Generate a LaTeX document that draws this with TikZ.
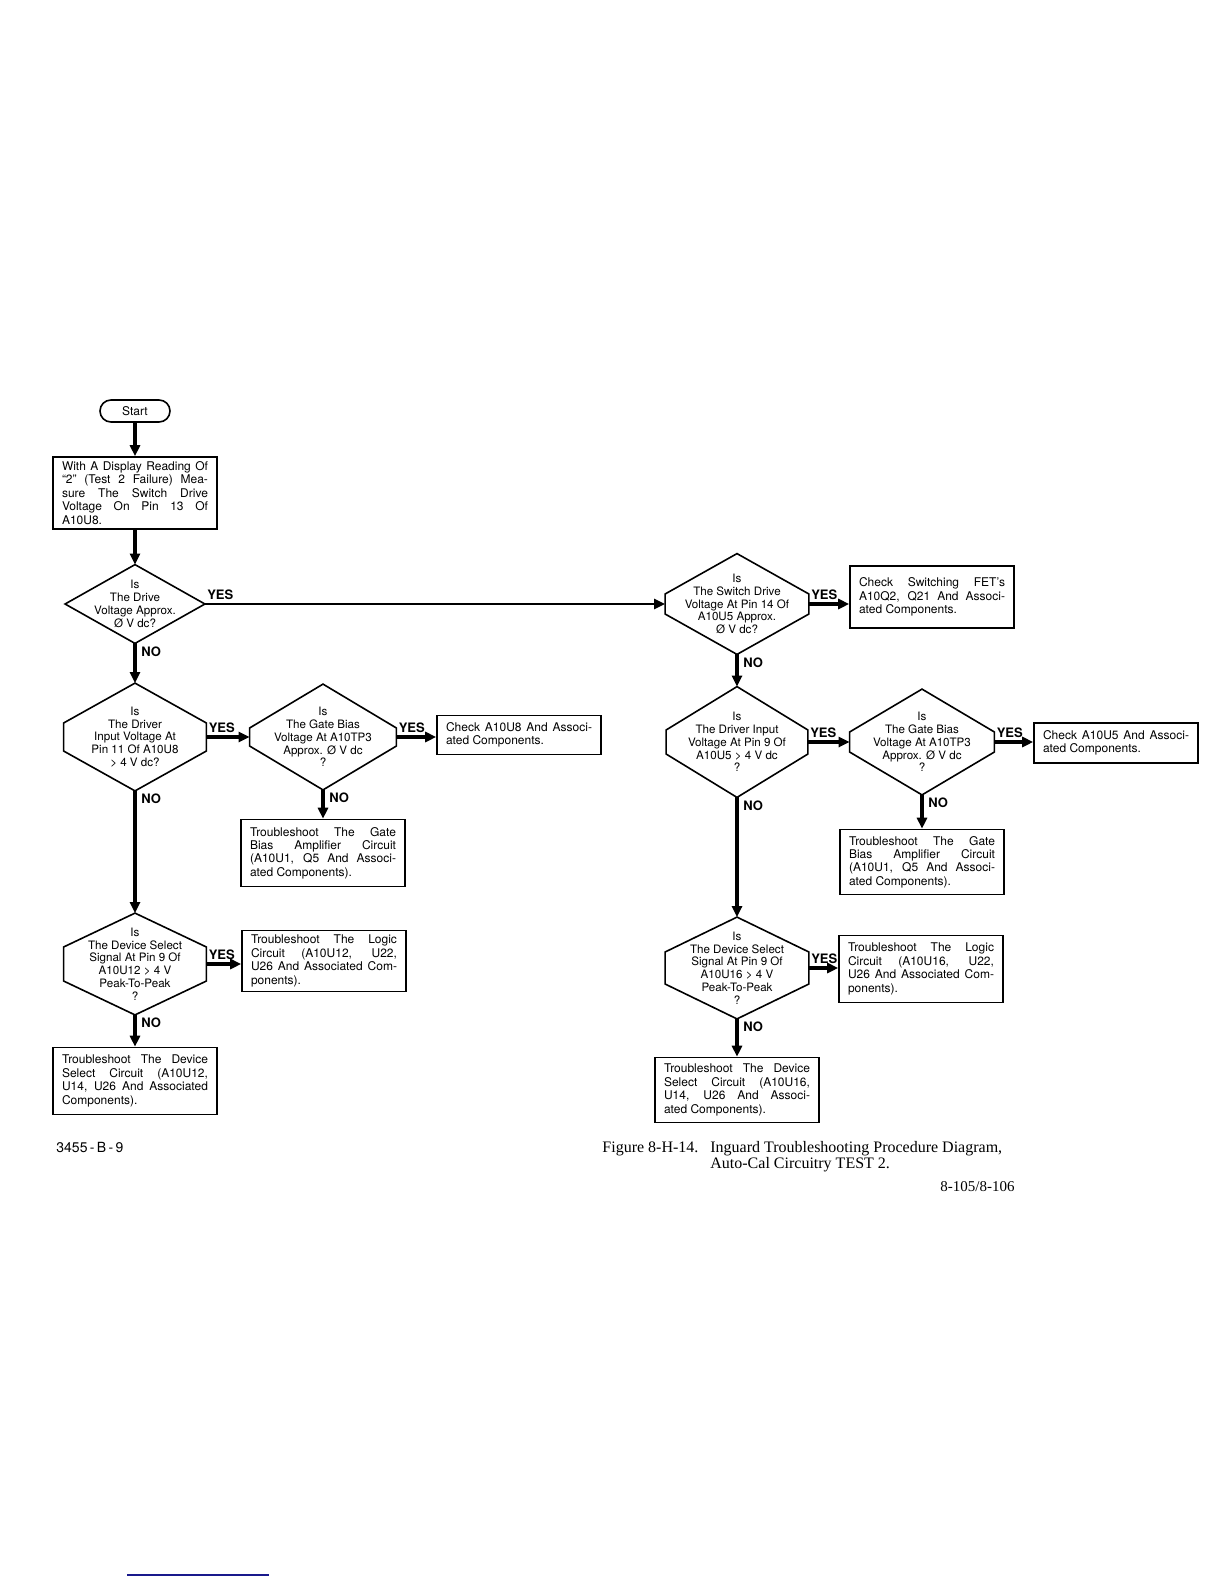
\documentclass[tikz,border=0pt]{standalone}
\usepackage{fontspec}
\setmainfont{TeX Gyre Heros}
\newfontfamily\captfont{Liberation Serif}
\usetikzlibrary{positioning, arrows.meta, calc}
\definecolor{linkblue}{RGB}{25,25,140}

\begin{document}
\begin{tikzpicture}[
    % one unit = one pixel of the scanned page, y running down
    x=0.5pt, y=-0.5pt,
    box/.style={rectangle, draw, line width=0.8pt, text width=73pt, inner xsep=4.5pt, inner ysep=1pt, align=justify, font=\fontsize{6}{6.7}\selectfont},
    dec/.style={inner sep=0pt, align=center, font=\fontsize{5.8}{6.4}\selectfont},
    term/.style={draw, line width=0.8pt, rounded corners=5.5pt, minimum width=35pt, minimum height=11pt, inner sep=0pt, font=\fontsize{6}{6.5}\selectfont},
    outline/.style={line width=0.8pt, line join=miter},
    lbl/.style={inner sep=0pt, font=\bfseries\fontsize{6.5}{7}\selectfont},
    arrow/.style={-{Triangle[length=5.5pt, width=5pt]}, line width=1.6pt},
    long arrow/.style={-{Triangle[length=5.5pt, width=5pt]}, line width=1.1pt},
    capt/.style={inner sep=0pt, anchor=base west, font=\captfont\fontsize{8}{9}\selectfont}
]
    \useasboundingbox (0,0) rectangle (1224,1584);

    % 1. Left column
    \node[term] (start) at (135,411) {Start};
    \node[box, minimum height=36pt, inner ysep=1.5pt] (b1) at (135,493) {With A Display Reading Of\linebreak “2” (Test 2 Failure) Mea-\linebreak sure The Switch Drive\linebreak Voltage On Pin 13 Of\linebreak A10U8.};
    \node[dec, minimum width=69.5pt, minimum height=39pt] (d1) at (135,604) {Is\\The Drive\\Voltage Approx.\\Ø V dc?};
    \node[dec, minimum width=71pt, minimum height=53.5pt] (d2) at (135,737) {Is\\The Driver\\Input Voltage At\\Pin 11 Of A10U8\\> 4 V dc?};
    \node[dec, minimum width=73pt, minimum height=52.5pt] (d3) at (323,737) {Is\\The Gate Bias\\Voltage At A10TP3\\Approx. Ø V dc\\?};
    \node[box, minimum height=19.5pt] (c1) at (519,735) {Check A10U8 And Associ-\linebreak ated Components.};
    \node[box, minimum height=33.5pt] (t1) at (323,853) {Troubleshoot The Gate\linebreak Bias Amplifier Circuit\linebreak (A10U1, Q5 And Associ-\linebreak ated Components).};
    \node[dec, minimum width=71pt, minimum height=50.5pt] (d4) at (135,964) {Is\\The Device Select\\Signal At Pin 9 Of\\A10U12 > 4 V\\Peak-To-Peak\\?};
    \node[box, minimum height=30.5pt] (t2) at (324,961) {Troubleshoot The Logic\linebreak Circuit (A10U12, U22,\linebreak U26 And Associated Com-\linebreak ponents).};
    \node[box, minimum height=33.5pt] (t3) at (135,1081) {Troubleshoot The Device\linebreak Select Circuit (A10U12,\linebreak U14, U26 And Associated\linebreak Components).};

    % 2. Right column
    \node[dec, minimum width=71.5pt, minimum height=50pt] (d5) at (737,604) {Is\\The Switch Drive\\Voltage At Pin 14 Of\\A10U5 Approx.\\Ø V dc?};
    \node[box, minimum height=31pt] (c2) at (932,597) {Check Switching FET’s\linebreak A10Q2, Q21 And Associ-\linebreak ated Components.};
    \node[dec, minimum width=70.5pt, minimum height=55pt] (d6) at (737,742) {Is\\The Driver Input\\Voltage At Pin 9 Of\\A10U5 > 4 V dc\\?};
    \node[dec, minimum width=72pt, minimum height=52.5pt] (d7) at (922,742) {Is\\The Gate Bias\\Voltage At A10TP3\\Approx. Ø V dc\\?};
    \node[box, minimum height=20pt] (c3) at (1116,743) {Check A10U5 And Associ-\linebreak ated Components.};
    \node[box, minimum height=32.5pt] (t4) at (922,862) {Troubleshoot The Gate\linebreak Bias Amplifier Circuit\linebreak (A10U1, Q5 And Associ-\linebreak ated Components).};
    \node[dec, minimum width=71.5pt, minimum height=50.5pt] (d8) at (737,968) {Is\\The Device Select\\Signal At Pin 9 Of\\A10U16 > 4 V\\Peak-To-Peak\\?};
    \node[box, minimum height=33.5pt] (t5) at (921,969) {Troubleshoot The Logic\linebreak Circuit (A10U16, U22,\linebreak U26 And Associated Com-\linebreak ponents).};
    \node[box, minimum height=32.5pt] (t6) at (737,1090) {Troubleshoot The Device\linebreak Select Circuit (A10U16,\linebreak U14, U26 And Associ-\linebreak ated Components).};

    % 3. Decision outlines (v = half length of the flat sides)
    \foreach \n/\v in {d1/0, d2/14, d3/9, d4/17, d5/10, d6/12, d7/10, d8/16}
        \draw[outline] (\n.north) -- ($(\n.east)+(0,-\v)$) -- ($(\n.east)+(0,\v)$) -- (\n.south)
            -- ($(\n.west)+(0,\v)$) -- ($(\n.west)+(0,-\v)$) -- cycle;

    % 4. Connectors
    \draw[arrow] (start) -- (b1);
    \draw[arrow] (b1) -- (d1);
    \draw[arrow] (d1.south) -- (d2.north);
    \draw[arrow] (d2.east) -- (d3.west);
    \draw[arrow] (d3.east) -- (d3.east -| c1.west);
    \draw[arrow] (d3.south) -- (t1.north);
    \draw[arrow] (d2.south) -- (d4.north);
    \draw[arrow] (d4.east) -- (d4.east -| t2.west);
    \draw[arrow] (d4.south) -- (t3.north);
    \draw[long arrow] (d1.east) -- (d5.west);
    \draw[arrow] (d5.east) -- (d5.east -| c2.west);
    \draw[arrow] (d5.south) -- (d6.north);
    \draw[arrow] (d6.east) -- (d7.west);
    \draw[arrow] (d7.east) -- (d7.east -| c3.west);
    \draw[arrow] (d7.south) -- (t4.north);
    \draw[arrow] (d6.south) -- (d8.north);
    \draw[arrow] (d8.east) -- (d8.east -| t5.west);
    \draw[arrow] (d8.south) -- (t6.north);

    % 5. YES / NO labels
    \foreach \n in {d1, d2, d3, d4, d5, d6, d7, d8} {
        \node[lbl, above right=2pt and 1pt of \n.east] (yes-\n) {YES};
        \node[lbl, below right=1.5pt and 3pt of \n.south] (no-\n) {NO};
    }

    % 6. Caption and page marks
    \node[inner sep=0pt, anchor=base west, font=\fontsize{7}{8}\selectfont] (artno) at (56,1152) {3455\,-\,B\,-\,9};
    \node[capt] (fignum) at (602,1152) {Figure 8-H-14.};
    \node[capt] (figttl) at (710,1152) {Inguard Troubleshooting Procedure Diagram,};
    \node[capt] (figttl2) at (710,1168) {Auto-Cal Circuitry TEST 2.};
    \node[capt, anchor=base east, font=\captfont\fontsize{7.5}{9}\selectfont] (pageno) at (1015,1191) {8-105/8-106};
    \draw[linkblue, line width=1pt] (127,1575) -- (269,1575);

\end{tikzpicture}
\end{document}
